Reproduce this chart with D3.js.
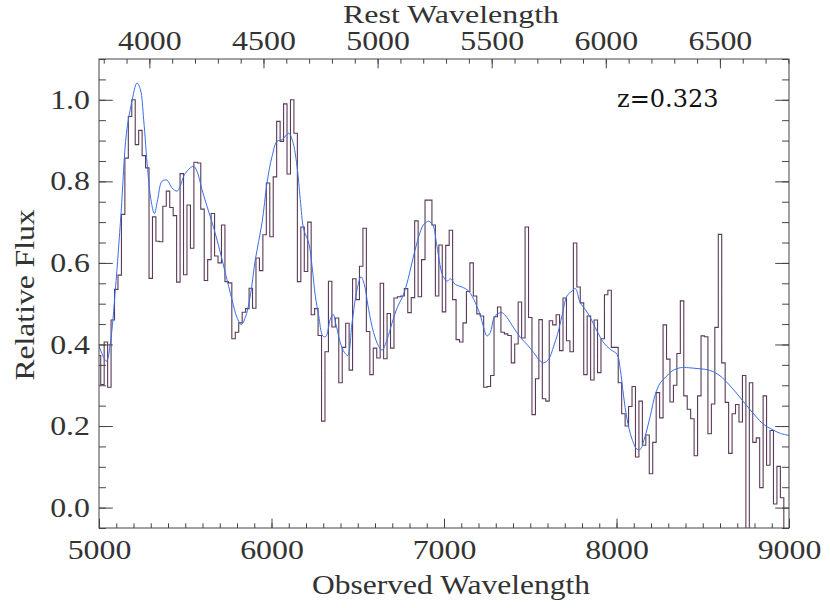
<!DOCTYPE html>
<html>
<head>
<meta charset="utf-8">
<script src="https://cdn.jsdelivr.net/npm/d3@7"></script>
<style>
  body { margin: 0; background: #fff; }
  .herhey { font-family: "Liberation Serif", serif; fill: #333; }
</style>
</head>
<body>
<svg id="chart" width="830" height="608"></svg>
<script>
// ---------------- data ----------------
var redshift = 0.323;
var binStart = 5000;   // centre of first 20 A bin
var binWidth = 20;

// binned spectrum, one value per 20 A bin from 5000 to 8980
var flux = [
  0.373, 0.302, 0.406, 0.295, 0.460, 0.535, 0.570, 0.719, 0.857, 0.959,
  1.000, 0.890, 0.925, 0.863, 0.833, 0.562, 0.713, 0.653, 0.652, 0.739,
  0.776, 0.736, 0.716, 0.553, 0.819, 0.571, 0.742, 0.636, 0.847, 0.845,
  0.732, 0.557, 0.608, 0.721, 0.617, 0.600, 0.693, 0.554, 0.551, 0.414,
  0.430, 0.453, 0.479, 0.488, 0.538, 0.489, 0.612, 0.581, 0.669, 0.796,
  0.664, 0.811, 0.947, 0.898, 0.990, 0.818, 1.000, 0.918, 0.554, 0.688,
  0.579, 0.700, 0.473, 0.488, 0.422, 0.212, 0.382, 0.555, 0.443, 0.465,
  0.306, 0.393, 0.452, 0.337, 0.561, 0.510, 0.592, 0.685, 0.432, 0.326,
  0.391, 0.367, 0.550, 0.365, 0.476, 0.391, 0.514, 0.517, 0.519, 0.537,
  0.478, 0.515, 0.703, 0.517, 0.608, 0.754, 0.754, 0.693, 0.519, 0.644,
  0.480, 0.643, 0.680, 0.510, 0.412, 0.406, 0.453, 0.530, 0.600, 0.519,
  0.475, 0.470, 0.295, 0.297, 0.324, 0.468, 0.492, 0.430, 0.426, 0.422,
  0.355, 0.401, 0.504, 0.416, 0.688, 0.466, 0.228, 0.316, 0.461, 0.267,
  0.261, 0.458, 0.448, 0.473, 0.385, 0.514, 0.409, 0.382, 0.649, 0.541,
  0.502, 0.326, 0.470, 0.313, 0.460, 0.331, 0.414, 0.522, 0.533, 0.393,
  0.393, 0.306, 0.230, 0.200, 0.248, 0.297, 0.124, 0.261, 0.153, 0.178,
  0.083, 0.160, 0.282, 0.220, 0.448, 0.364, 0.259, 0.300, 0.378, 0.507,
  0.274, 0.241, 0.218, 0.127, 0.274, 0.421, 0.419, 0.181, 0.254, 0.442,
  0.670, 0.355, 0.258, 0.133, 0.230, 0.253, 0.210, 0.324, -0.080, 0.306,
  0.160, 0.171, 0.049, 0.274, 0.104, 0.189, 0.009, 0.101, 0.024, -0.080
];

// smoothed template (blue)
var smoothWave = [
  5000, 5043, 5066, 5095, 5128, 5159, 5189, 5220, 5240, 5259, 5282, 5301, 5321, 5340,
  5365, 5394, 5423, 5452, 5471, 5495, 5529, 5549, 5568, 5597, 5626, 5655, 5694, 5732,
  5771, 5800, 5825, 5848, 5877, 5906, 5945, 5974, 6003, 6032, 6061, 6100, 6123, 6148,
  6167, 6187, 6216, 6235, 6254, 6274, 6297, 6314, 6341, 6357, 6376, 6399, 6422, 6442,
  6467, 6496, 6519, 6538, 6563, 6592, 6621, 6641, 6670, 6699, 6728, 6762, 6786, 6814,
  6843, 6882, 6911, 6936, 6959, 6988, 7004, 7017, 7037, 7066, 7104, 7143, 7182, 7211,
  7230, 7249, 7268, 7288, 7307, 7336, 7365, 7404, 7443, 7481, 7520, 7559, 7578, 7607,
  7636, 7658, 7684, 7713, 7742, 7762, 7790, 7819, 7848, 7887, 7926, 7964, 8003, 8022,
  8041, 8061, 8090, 8119, 8138, 8161, 8196, 8225, 8254, 8283, 8322, 8370, 8418, 8467,
  8515, 8563, 8612, 8660, 8709, 8757, 8805, 8853, 8901, 8950, 9000
];
var smoothFlux = [
  0.396, 0.359, 0.404, 0.535, 0.723, 0.918, 0.992, 1.041, 1.025, 0.951, 0.829, 0.755, 0.721, 0.755,
  0.800, 0.803, 0.784, 0.776, 0.788, 0.816, 0.833, 0.837, 0.825, 0.780, 0.739, 0.700, 0.641, 0.576,
  0.510, 0.466, 0.449, 0.466, 0.519, 0.608, 0.698, 0.796, 0.861, 0.898, 0.902, 0.918, 0.898, 0.837,
  0.755, 0.682, 0.649, 0.592, 0.519, 0.470, 0.421, 0.419, 0.462, 0.474, 0.445, 0.404, 0.381, 0.373,
  0.453, 0.535, 0.566, 0.547, 0.486, 0.429, 0.396, 0.386, 0.412, 0.453, 0.490, 0.519, 0.551, 0.600,
  0.649, 0.694, 0.702, 0.692, 0.641, 0.574, 0.561, 0.555, 0.561, 0.547, 0.541, 0.531, 0.502, 0.471,
  0.441, 0.421, 0.429, 0.463, 0.474, 0.478, 0.466, 0.441, 0.417, 0.400, 0.380, 0.359, 0.355, 0.364,
  0.396, 0.425, 0.470, 0.519, 0.531, 0.537, 0.502, 0.486, 0.466, 0.433, 0.404, 0.388, 0.376, 0.339,
  0.274, 0.217, 0.168, 0.143, 0.143, 0.168, 0.225, 0.278, 0.306, 0.319, 0.335, 0.343, 0.343, 0.341,
  0.339, 0.333, 0.319, 0.298, 0.274, 0.249, 0.225, 0.204, 0.192, 0.182, 0.177
];

var bottomTicks = [5000, 6000, 7000, 8000, 9000];
var topTicks = [4000, 4500, 5000, 5500, 6000, 6500];
var leftTicks = [0.0, 0.2, 0.4, 0.6, 0.8, 1.0];

// ---------------- layout ----------------
var svg = d3.select('#chart');
var plotL = 99, plotR = 789, plotT = 59, plotB = 528;
var stretch = 1.18;   // widen serif glyphs like the vector font

var x = d3.scaleLinear().domain([5000, 9000]).range([plotL, plotR]);
var xRest = d3.scaleLinear().domain([5000 / (1 + redshift), 9000 / (1 + redshift)]).range([plotL, plotR]);
var y = d3.scaleLinear().domain([-0.05, 1.1]).range([plotB, plotT]);

var xLen = 0.02 * (plotB - plotT);   // ticks on x axes
var yLen = 0.02 * (plotR - plotL);   // ticks on y axes

svg.append('clipPath').attr('id', 'plotClip')
  .append('rect')
  .attr('x', plotL).attr('y', plotT)
  .attr('width', plotR - plotL).attr('height', plotB - plotT);

// ---------------- spectrum ----------------
var bins = flux.map(function(f, i) { return { w: binStart + i * binWidth, f: f }; });

svg.append('path')
  .datum(bins)
  .attr('clip-path', 'url(#plotClip)')
  .attr('fill', 'none')
  .attr('stroke', '#5a3a58')
  .attr('stroke-width', 1.1)
  .attr('d', d3.line().x(d => x(d.w)).y(d => y(d.f)).curve(d3.curveStep));

var smooth = smoothWave.map(function(w, i) { return { w: w, f: smoothFlux[i] }; });

svg.append('path')
  .datum(smooth)
  .attr('clip-path', 'url(#plotClip)')
  .attr('fill', 'none')
  .attr('stroke', '#3a6ee6')
  .attr('stroke-width', 1)
  .attr('d', d3.line().x(d => x(d.w)).y(d => y(d.f)).curve(d3.curveCatmullRom.alpha(0.5)));

// ---------------- axes ----------------
function styleAxis(g) {
  g.select('.domain').remove();
  g.selectAll('line').attr('stroke', '#444').attr('stroke-width', 1);
  g.selectAll('text')
    .attr('class', 'herhey')
    .attr('font-size', 27)
    .attr('fill', '#333');
}

// bottom
svg.append('g').attr('transform', 'translate(0,' + plotB + ')')
  .call(d3.axisBottom(x).tickValues(d3.range(5000, 9001, 100)).tickSize(-xLen / 2).tickFormat(''))
  .call(styleAxis);
svg.append('g').attr('transform', 'translate(0,' + plotB + ')')
  .call(d3.axisBottom(x).tickValues(bottomTicks).tickSize(-xLen).tickPadding(12).tickFormat(d3.format('d')))
  .call(styleAxis);

// top (rest wavelength)
var restMinor = d3.range(3800, 6801, 100);
svg.append('g').attr('transform', 'translate(0,' + plotT + ')')
  .call(d3.axisTop(xRest).tickValues(restMinor).tickSize(-xLen / 2).tickFormat(''))
  .call(styleAxis);
svg.append('g').attr('transform', 'translate(0,' + plotT + ')')
  .call(d3.axisTop(xRest).tickValues(topTicks).tickSize(-xLen).tickPadding(9).tickFormat(d3.format('d')))
  .call(styleAxis);

// left
var yMinor = d3.range(-1, 23).map(i => +(i * 0.05).toFixed(2));
svg.append('g').attr('transform', 'translate(' + plotL + ',0)')
  .call(d3.axisLeft(y).tickValues(yMinor).tickSize(-yLen / 2).tickFormat(''))
  .call(styleAxis);
svg.append('g').attr('transform', 'translate(' + plotL + ',0)')
  .call(d3.axisLeft(y).tickValues(leftTicks).tickSize(-yLen).tickPadding(9).tickFormat(d3.format('.1f')))
  .call(styleAxis);

// right
svg.append('g').attr('transform', 'translate(' + plotR + ',0)')
  .call(d3.axisRight(y).tickValues(yMinor).tickSize(-yLen / 2).tickFormat(''))
  .call(styleAxis);
svg.append('g').attr('transform', 'translate(' + plotR + ',0)')
  .call(d3.axisRight(y).tickValues(leftTicks).tickSize(-yLen).tickFormat(''))
  .call(styleAxis);

// frame
svg.append('rect')
  .attr('x', plotL).attr('y', plotT)
  .attr('width', plotR - plotL).attr('height', plotB - plotT)
  .attr('fill', 'none').attr('stroke', '#444').attr('stroke-width', 1);

// ---------------- titles ----------------
svg.append('text').attr('class', 'herhey title')
  .attr('x', 451).attr('y', 594)
  .attr('text-anchor', 'middle').attr('font-size', 27)
  .attr('textLength', 278).attr('lengthAdjust', 'spacingAndGlyphs')
  .text('Observed Wavelength');

svg.append('text').attr('class', 'herhey title')
  .attr('x', 451).attr('y', 23)
  .attr('text-anchor', 'middle').attr('font-size', 25)
  .attr('textLength', 216).attr('lengthAdjust', 'spacingAndGlyphs')
  .text('Rest Wavelength');

svg.append('text').attr('class', 'herhey title')
  .attr('transform', 'translate(34,295) rotate(-90)')
  .attr('text-anchor', 'middle').attr('font-size', 27)
  .attr('textLength', 171).attr('lengthAdjust', 'spacingAndGlyphs')
  .text('Relative Flux');

svg.append('text')
  .attr('x', 617).attr('y', 107)
  .attr('font-family', '"DejaVu Serif", serif')
  .attr('font-size', 24)
  .attr('fill', '#111')
  .text('z=' + redshift.toFixed(3));

// stretch tick labels to the wider vector-font look
svg.selectAll('.tick text.herhey').each(function() {
  var w = this.getComputedTextLength();
  d3.select(this).attr('textLength', w * stretch).attr('lengthAdjust', 'spacingAndGlyphs');
});
</script>
</body>
</html>
